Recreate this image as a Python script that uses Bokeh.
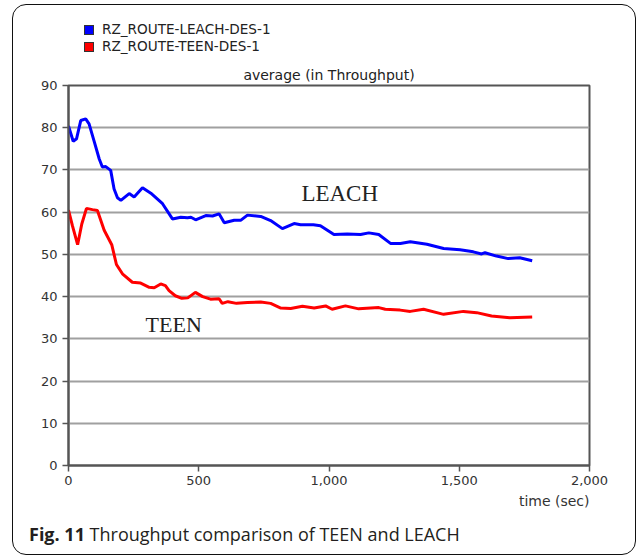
from bokeh.plotting import figure
from bokeh.layouts import column
from bokeh.models import (Range1d, SingleIntervalTicker, NumeralTickFormatter, Label, Title, Div)
from bokeh.embed import file_html
from bokeh.resources import INLINE

# ---- data ----
leach_t = [0, 18, 31, 47, 66, 79, 98, 118, 130, 143, 162, 175, 188, 201, 233, 252, 284, 316,
           361, 399, 431, 457, 470, 488, 527, 553, 578, 598, 636, 662, 687, 738, 776, 821, 866,
           891, 940, 967, 1019, 1070, 1121, 1153, 1191, 1236, 1274, 1312, 1376, 1440, 1503,
           1554, 1586, 1599, 1643, 1688, 1732, 1780]
leach_v = [80.4, 76.8, 77.4, 81.7, 82.1, 80.9, 76.9, 72.6, 70.7, 70.8, 69.9, 65.5, 63.4, 62.8,
           64.4, 63.6, 65.8, 64.5, 62.0, 58.4, 58.8, 58.7, 58.8, 58.2, 59.2, 59.1, 59.6, 57.5,
           58.1, 58.1, 59.3, 59.0, 58.0, 56.1, 57.3, 57.0, 57.0, 56.8, 54.7, 54.8, 54.7, 55.1,
           54.7, 52.6, 52.6, 53.0, 52.4, 51.4, 51.1, 50.6, 50.1, 50.4, 49.6, 49.0, 49.2, 48.5]

teen_t = [0, 15, 35, 51, 69, 92, 111, 137, 166, 184, 207, 245, 277, 310, 329, 354, 372, 386,
          410, 435, 458, 487, 515, 545, 578, 590, 612, 645, 687, 738, 776, 815, 853, 898, 943,
          987, 1012, 1063, 1114, 1191, 1216, 1273, 1312, 1363, 1440, 1516, 1567, 1624, 1694, 1780]
teen_v = [60.5, 56.8, 52.3, 57.2, 60.9, 60.6, 60.4, 55.7, 52.3, 47.6, 45.4, 43.4, 43.2, 42.2,
          42.1, 43.0, 42.6, 41.4, 40.2, 39.6, 39.7, 41.0, 40.0, 39.4, 39.5, 38.4, 38.8, 38.4,
          38.6, 38.7, 38.4, 37.3, 37.2, 37.7, 37.3, 37.8, 37.0, 37.8, 37.1, 37.4, 37.0, 36.8,
          36.5, 37.0, 35.8, 36.5, 36.2, 35.4, 35.0, 35.2]

series_names = ["RZ_ROUTE-LEACH-DES-1", "RZ_ROUTE-TEEN-DES-1"]
series_colors = ["#0000ff", "#ff0000"]
chart_title = "average (in Throughput)"
x_label = "time (sec)"
caption_bold = "Fig. 11"
caption_text = "Throughput comparison of TEEN and LEACH"

W, H = 622, 467
p = figure(width=W, height=H, output_backend="svg", toolbar_location=None, title=None,
           x_range=Range1d(0, 2000), y_range=Range1d(0, 90),
           min_border_left=55, min_border_right=46, min_border_top=30, min_border_bottom=57)
p.background_fill_color = "white"
p.border_fill_color = "white"
p.outline_line_color = "#555555"
p.outline_line_width = 2

# axes
for ax in (p.xaxis[0], p.yaxis[0]):
    ax.axis_line_color = "#555555"
    ax.axis_line_width = 2
    ax.major_tick_line_color = "#555555"
    ax.major_tick_line_width = 1.5
    ax.major_tick_out = 6
    ax.major_tick_in = 0
    ax.minor_tick_line_color = None
    ax.major_label_text_font = "DejaVu Sans"
    ax.major_label_text_font_size = "13px"
    ax.major_label_text_color = "#333333"
p.xaxis.ticker = SingleIntervalTicker(interval=500)
p.yaxis.ticker = SingleIntervalTicker(interval=10)
p.xaxis.formatter = NumeralTickFormatter(format="0,0")
p.xaxis.major_label_standoff = 4
p.yaxis.major_label_standoff = 5

p.xgrid.grid_line_color = None
p.ygrid.grid_line_color = "#a0a0a0"
p.ygrid.grid_line_width = 1.8

# lines
p.line(leach_t, leach_v, line_color=series_colors[0], line_width=3)
p.line(teen_t, teen_v, line_color=series_colors[1], line_width=3)

# chart title (above the frame)
p.add_layout(Title(text=chart_title, align="center", text_font="DejaVu Sans",
                   text_font_size="14px", text_font_style="normal", text_color="#222222",
                   standoff=6), "above")

# x axis label at the right end, below the axis
p.add_layout(Title(text=x_label, align="right", text_font="DejaVu Sans", text_font_size="14px",
                   text_font_style="normal", text_color="#333333", standoff=6), "below")

# in-plot labels
p.add_layout(Label(x=894, y=64.4, text="LEACH", text_align="left", text_baseline="alphabetic",
                   text_font="Liberation Serif", text_font_size="23px", text_color="#222222"))
p.add_layout(Label(x=296, y=33.4, text="TEEN", text_align="left", text_baseline="alphabetic",
                   text_font="Liberation Serif", text_font_size="22px", text_color="#222222"))

# legend rows (above the plot)
rows = "".join(
    f'<div style="display:flex;align-items:center;height:17px;white-space:nowrap">'
    f'<span style="display:inline-block;box-sizing:border-box;width:10px;height:10px;'
    f'background:{c};border:1px solid #333;margin-right:8px;flex:none"></span>{n}</div>'
    for n, c in zip(series_names, series_colors))
legend_div = Div(text=rows, width=320, height=34, margin=(16, 0, 0, 71),
                 styles={"font-family": "DejaVu Sans", "font-size": "13.6px", "color": "#222222"})

caption = Div(text=f"<b>{caption_bold}</b> {caption_text}", width=580, height=32,
              margin=(0, 0, 0, 16),
              styles={"font-family": "Open Sans", "font-size": "18px", "color": "#231f20",
                      "line-height": "24px"})

layout = column(legend_div, p, caption, spacing=0,
                styles={"margin-left": "12px", "margin-top": "4px",
                        "border": "1.5px solid #111111", "border-radius": "14px"})

open("out.html", "w").write(file_html(layout, INLINE))
